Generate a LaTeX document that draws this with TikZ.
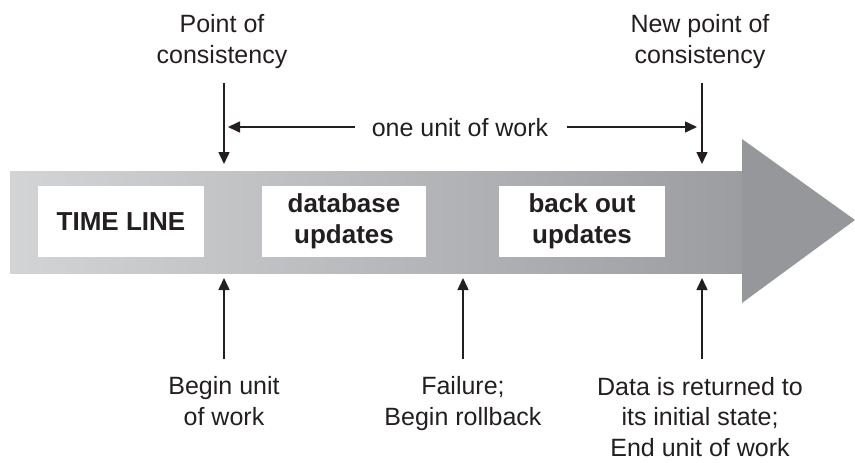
\documentclass[tikz,border=0pt]{standalone}
\usepackage{fontspec}
\setmainfont{Liberation Sans}
\usetikzlibrary{arrows.meta}
\definecolor{txt}{HTML}{231F20}
\definecolor{shL}{HTML}{D3D4D6}
\definecolor{shR}{HTML}{9C9DA0}
\definecolor{headc}{HTML}{96979B}
\begin{document}
\begin{tikzpicture}[x=1pt,y=-1pt,
  lbl/.style={font=\fontsize{25}{30.5}\selectfont, text=txt, align=center, inner sep=0pt},
  boxlbl/.style={fill=white, draw=none, minimum height=71pt, inner sep=0pt,
    font=\bfseries\fontsize{26}{31}\selectfont, align=center, text=txt},
  arr/.style={line width=1.5pt, draw=txt, -{Triangle[length=12pt,width=11pt]}}]
\useasboundingbox (0,0) rectangle (855,463);
% big arrow
\shade[left color=shL, right color=shR] (10,171) rectangle (743,273);
\fill[headc] (742,139) -- (855,220) -- (742,303) -- cycle;
% boxes
\node[boxlbl, minimum width=166pt] (timeline) at (121,221.5) {TIME LINE};
\node[boxlbl, minimum width=164pt] (dbupd) at (344,221.5) {database\\updates};
\node[boxlbl, minimum width=166pt] (backout) at (582,221.5) {back out\\updates};
% top labels (base = baseline of last line)
\node[lbl, anchor=base] (poc) at (222,63) {Point of\\consistency};
\node[lbl, anchor=base] (npoc) at (700,63) {New point of\\consistency};
\coordinate (t1s) at (224,83);
\coordinate (t1e) at (224,164);
\coordinate (t2s) at (702,83);
\coordinate (t2e) at (702,164);
\draw[arr] (t1s) -- (t1e);
\draw[arr] (t2s) -- (t2e);
% one unit of work
\node[lbl, anchor=base] (unit) at (460,136) {one unit of work};
\coordinate (ul) at (355,127);
\coordinate (ult) at (228,127);
\coordinate (ur) at (567,127);
\coordinate (urt) at (697,127);
\draw[arr] (ul) -- (ult);
\draw[arr] (ur) -- (urt);
% bottom labels
\node[lbl, anchor=base] (begin) at (224,425) {Begin unit\\of work};
\node[lbl, anchor=base] (fail) at (463,425) {Failure;\\Begin rollback};
\node[lbl, anchor=base] (data) at (700,456) {Data is returned to\\its initial state;\\End unit of work};
\coordinate (b1s) at (224,359);
\coordinate (b1e) at (224,278);
\coordinate (b2s) at (463,359);
\coordinate (b2e) at (463,278);
\coordinate (b3s) at (702,359);
\coordinate (b3e) at (702,278);
\draw[arr] (b1s) -- (b1e);
\draw[arr] (b2s) -- (b2e);
\draw[arr] (b3s) -- (b3e);
\end{tikzpicture}
\end{document}
